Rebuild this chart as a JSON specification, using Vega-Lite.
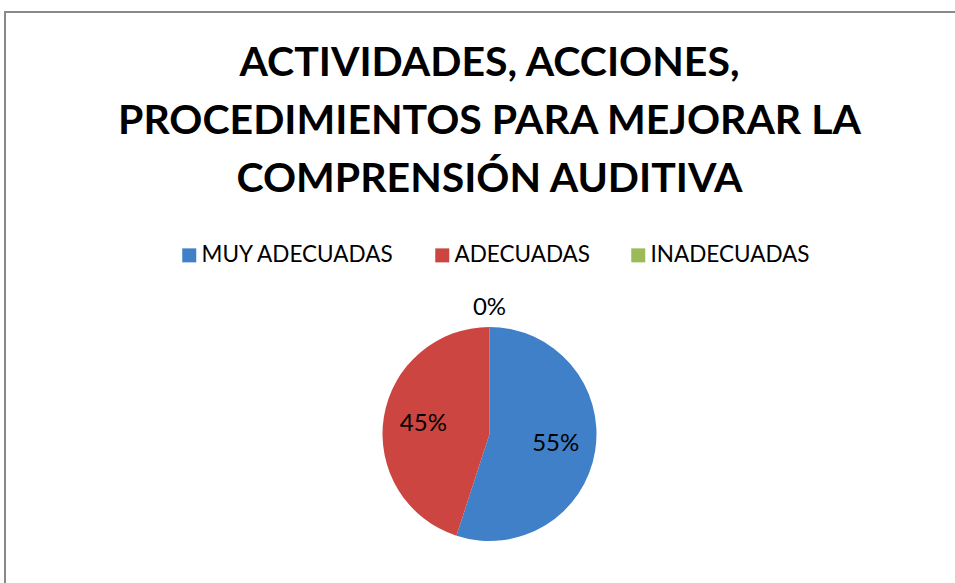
{
  "$schema": "https://vega.github.io/schema/vega-lite/v6.json",
  "autosize": "none",
  "padding": {"left": 5, "top": 12, "right": 0, "bottom": 0},
  "width": 969,
  "height": 844,
  "background": "white",
  "view": {"stroke": "#898989", "strokeWidth": 2},
  "title": {
    "text": ["ACTIVIDADES, ACCIONES,", "PROCEDIMIENTOS PARA MEJORAR LA", "COMPRENSIÓN AUDITIVA"],
    "frame": "group",
    "anchor": "middle",
    "orient": "top",
    "baseline": "alphabetic",
    "offset": -221,
    "font": "Lato",
    "fontSize": 41,
    "fontWeight": "bold",
    "lineHeight": 58,
    "color": "#000000"
  },
  "data": {
    "values": [
      {"categoria": "MUY ADECUADAS", "valor": 55, "orden": 1, "etiqueta": "55%"},
      {"categoria": "ADECUADAS", "valor": 45, "orden": 2, "etiqueta": "45%"},
      {"categoria": "INADECUADAS", "valor": 0, "orden": 3, "etiqueta": "0%"}
    ]
  },
  "encoding": {
    "theta": {"field": "valor", "type": "quantitative", "stack": true},
    "order": {"field": "orden", "type": "quantitative"}
  },
  "layer": [
    {
      "mark": {"type": "arc", "outerRadius": 107},
      "encoding": {
        "color": {
          "field": "categoria",
          "type": "nominal",
          "scale": {
            "domain": ["MUY ADECUADAS", "ADECUADAS", "INADECUADAS"],
            "range": ["#4080C8", "#CC4541", "#9BBB59"]
          },
          "legend": {
            "title": null,
            "orient": "none",
            "direction": "horizontal",
            "legendX": 173,
            "legendY": 232,
            "symbolType": "square",
            "symbolSize": 196,
            "symbolStrokeWidth": 0,
            "labelFont": "Lato",
            "labelFontSize": 22.5,
            "labelColor": "#000000",
            "labelLimit": 400,
            "labelOffset": 1,
            "columnPadding": 36
          }
        }
      }
    },
    {
      "mark": {"type": "text", "radius": 67, "font": "Lato", "fontSize": 24, "color": "#000000"},
      "encoding": {
        "detail": {"field": "categoria"},
        "text": {"condition": {"test": "datum.valor > 0", "field": "etiqueta"}, "value": ""}
      }
    },
    {
      "mark": {"type": "text", "radius": 126, "font": "Lato", "fontSize": 24, "color": "#000000"},
      "encoding": {
        "detail": {"field": "categoria"},
        "text": {"condition": {"test": "datum.valor == 0", "field": "etiqueta"}, "value": ""}
      }
    }
  ]
}
